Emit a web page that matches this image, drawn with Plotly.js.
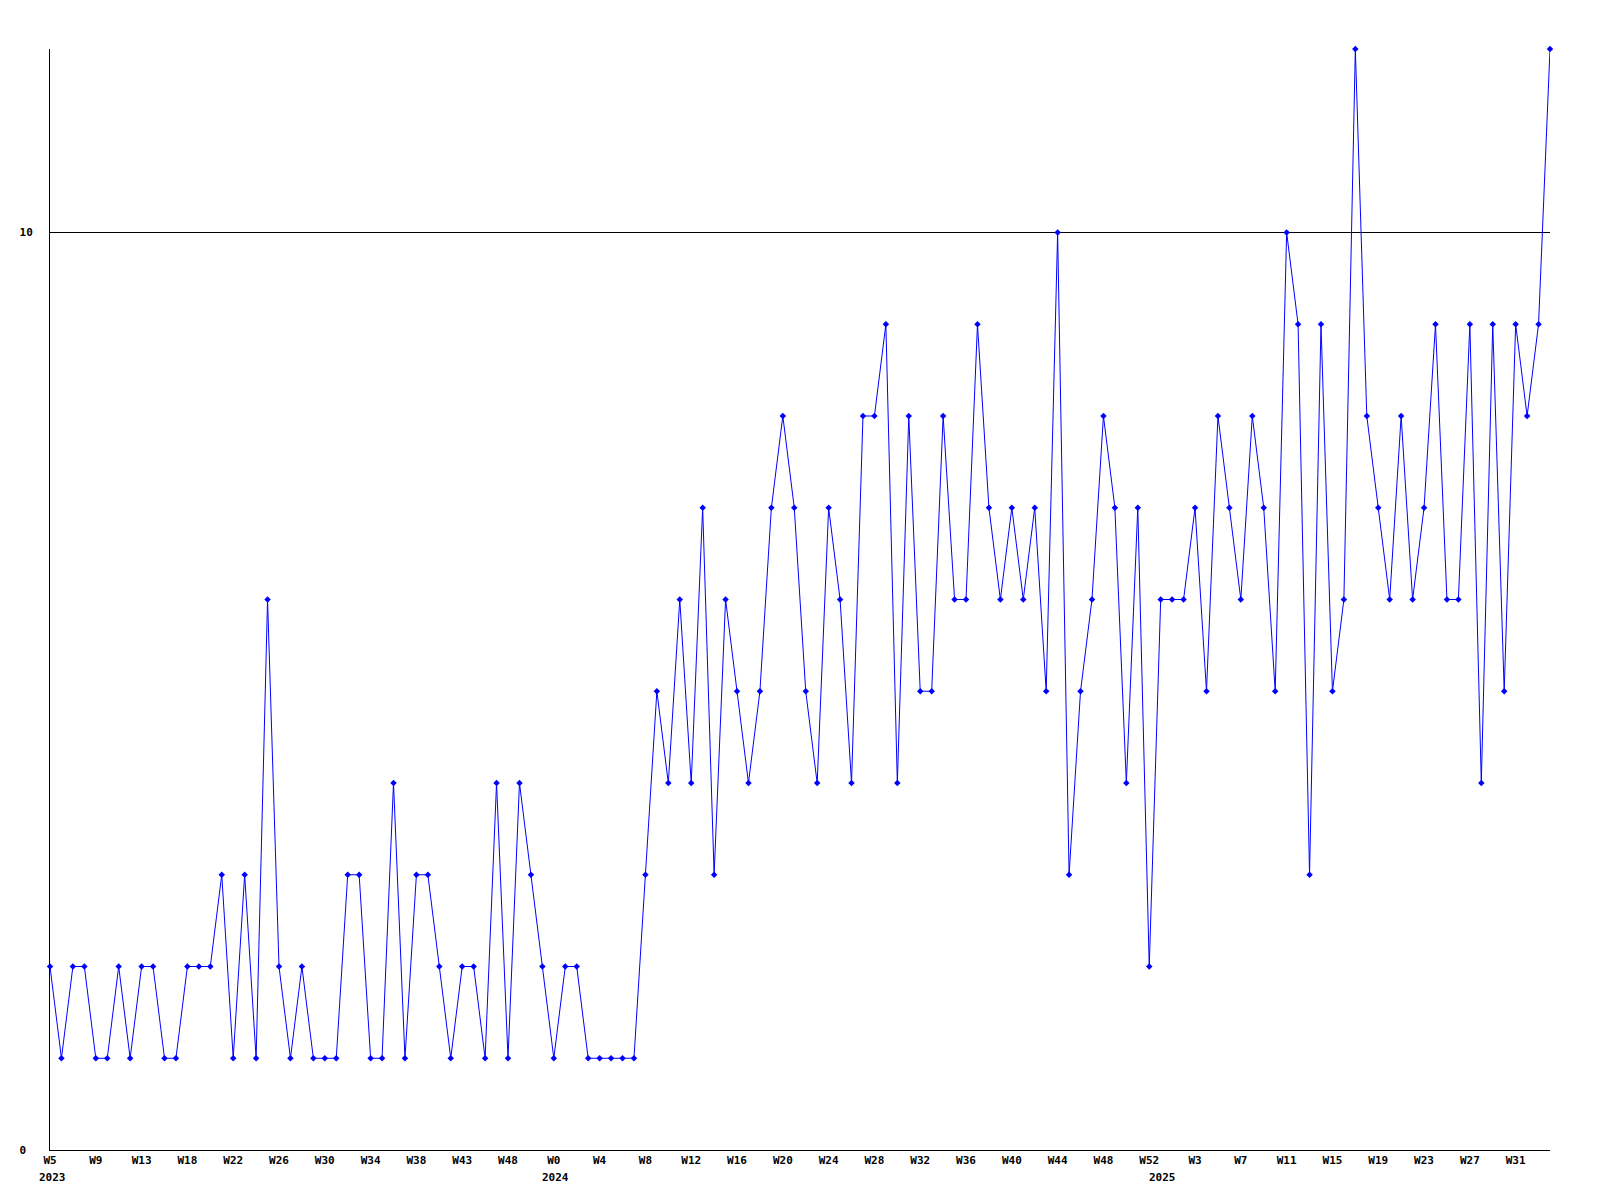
<!DOCTYPE html>
<html>
<head>
<meta charset="utf-8">
<script src="https://cdn.plot.ly/plotly-3.0.1.min.js"></script>
<style>html,body{margin:0;padding:0;background:#fff;}</style>
</head>
<body>
<div id="chart" style="width:1600px;height:1200px;"></div>
<script>
// Weekly counts, one value per week (2023 W5 .. 2025 W34)
const values = [
  2,1,2,2,1,1,2,1,2,2,
  1,1,2,2,2,3,1,3,1,6,
  2,1,2,1,1,1,3,3,1,1,
  4,1,3,3,2,1,2,2,1,4,
  1,4,3,2,1,2,2,1,1,1,
  1,1,3,5,4,6,4,7,3,6,
  5,4,5,7,8,7,5,4,7,6,
  4,8,8,9,4,8,5,5,8,6,
  6,9,7,6,7,6,7,5,10,3,
  5,6,8,7,4,7,2,6,6,6,
  7,5,8,7,6,8,7,5,10,9,
  3,9,5,6,12,8,7,6,8,6,
  7,9,6,6,9,4,9,5,9,8,
  9,12
];
// Tick labels, one every 4 weeks
const tickLabels = ['W5','W9','W13','W18','W22','W26','W30','W34','W38','W43','W48',
  'W0','W4','W8','W12','W16','W20','W24','W28','W32','W36','W40','W44','W48','W52',
  'W3','W7','W11','W15','W19','W23','W27','W31'];
const tickStep = 4;
// Year labels and the week index where each year begins
const years = ['2023','2024','2025'];
const yearPos = [0, 44, 97];
const yTicks = [0, 10];
const yTickText = ['0\u00a0', '10'];

const xIdx = values.map((_, i) => i);
const tickVals = tickLabels.map((_, i) => i * tickStep);

const font = {family: 'DejaVu Sans Mono, monospace', size: 11, color: '#000', weight: 'bold'};

const trace = {
  x: xIdx, y: values, type: 'scatter', mode: 'lines+markers',
  line: {color: '#0000ff', width: 1},
  marker: {color: '#0000ff', size: 5, symbol: 'diamond'},
  cliponaxis: false, hoverinfo: 'skip'
};

const layout = {
  width: 1600, height: 1200,
  margin: {l: 50, r: 50, t: 49, b: 50},
  paper_bgcolor: '#fff', plot_bgcolor: '#fff',
  showlegend: false,
  font: font,
  xaxis: {
    range: [0, values.length - 1],
    showline: true, linecolor: '#000', linewidth: 1,
    showgrid: false, zeroline: false, ticks: '',
    tickmode: 'array', tickvals: tickVals, ticktext: tickLabels,
    tickfont: font, tickangle: 0, automargin: false, fixedrange: true
  },
  yaxis: {
    range: [0, 12],
    showline: true, linecolor: '#000', linewidth: 1,
    showgrid: true, gridcolor: '#000', gridwidth: 1,
    zeroline: false, ticks: '',
    tickmode: 'array', tickvals: yTicks, ticktext: yTickText,
    tickfont: font, ticklabelstandoff: 14, automargin: false, fixedrange: true
  },
  annotations: years.map((t, k) => ({
    text: t, x: yearPos[k], xref: 'x', y: 0, yref: 'paper',
    yanchor: 'middle', xanchor: 'center', yshift: -27, xshift: 2,
    showarrow: false, font: font
  }))
};

Plotly.newPlot('chart', [trace], layout, {displayModeBar: false, staticPlot: true});
</script>
</body>
</html>
